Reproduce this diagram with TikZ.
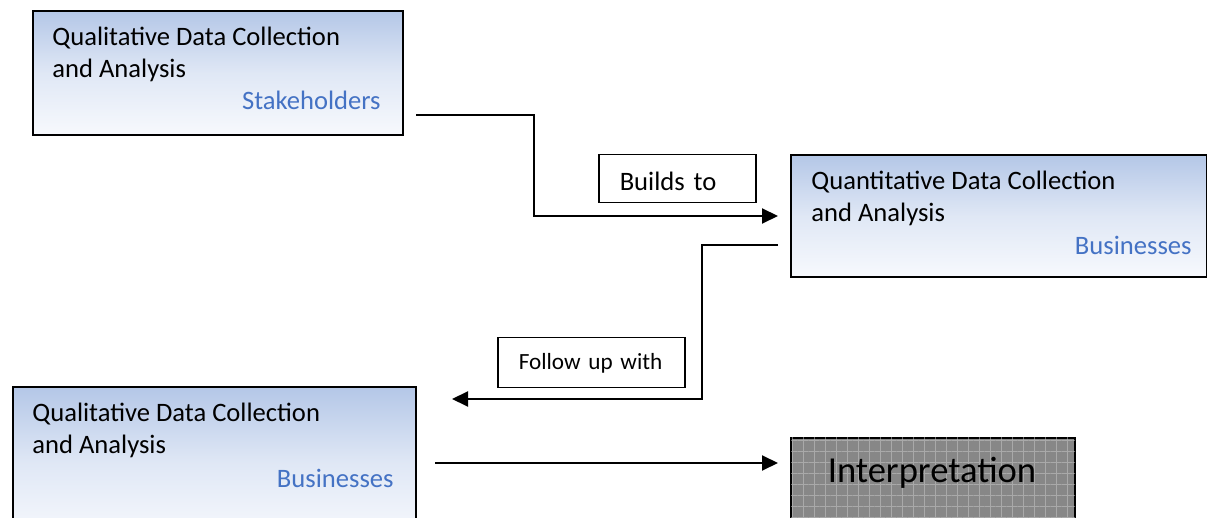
\documentclass[tikz,border=0pt]{standalone}
\usepackage{fontspec}
\setmainfont{Carlito}
\usetikzlibrary{arrows.meta,patterns.meta}

\definecolor{boxblue}{RGB}{180,199,231}
\definecolor{boxwhite}{RGB}{247,249,253}
\definecolor{grouptext}{RGB}{68,114,196}

\tikzset{
    stagebox/.style={draw=black, line width=1pt, anchor=north west,
        top color=boxblue, bottom color=boxwhite, middle color=boxblue!35!boxwhite},
    steptitle/.style={anchor=base west, align=left, inner sep=0pt,
        font=\fontsize{13.3}{16}\selectfont},
    group/.style={anchor=base east, inner sep=0pt, text=grouptext,
        font=\fontsize{13.3}{16}\selectfont},
    linkbox/.style={draw=black, line width=0.75pt, anchor=north west, align=left,
        inner xsep=10.5pt, inner ysep=0pt, text depth=0pt},
    flow/.style={line width=1pt, -{Triangle[length=8pt,width=7.5pt]}}
}

\begin{document}
\begin{tikzpicture}[x=0.5pt,y=-0.5pt]
    \useasboundingbox (0,0) rectangle (1207,518);
    \clip (0,0) rectangle (1207,518);

    % the three data collection steps
    \node[stagebox, minimum width=185pt, minimum height=62pt] (stake) at (32,10) {};
    \node[stagebox, minimum width=208pt, minimum height=61pt] (quant) at (790,154) {};
    \node[stagebox, minimum width=201.5pt, minimum height=76pt] (bus) at (12,386) {};

    % titles sit on the baseline of their last line
    \node[steptitle] (staketitle) at (52,78) {Qualitative Data Collection\\and Analysis};
    \node[group] (stakegroup) at (381,110) {Stakeholders};
    \node[steptitle] (quanttitle) at (811,222) {Quantitative Data Collection\\and Analysis};
    \node[group] (quantgroup) at (1192,255) {Businesses};
    \node[steptitle] (bustitle) at (32,454) {Qualitative Data Collection\\and Analysis};
    \node[group] (busgroup) at (394,488) {Businesses};

    % interpretation box, hatched grey
    \node[draw=black, line width=1pt, anchor=north west, fill=black!47,
          minimum width=142pt, minimum height=60pt] (interp) at (790,437) {};
    \fill[pattern={Hatch[distance=5.5pt, line width=0.5pt]}, pattern color=white!80!black,
          opacity=0.5] ([shift={(1,-1)}]interp.south west) rectangle ([shift={(-1,1)}]interp.north east);
    \node[anchor=base, inner sep=0pt, text=black, font=\fontsize{18.3}{22}\selectfont] (interptext)
          at (932,483) {Interpretation};

    % labels on the connectors
    \node[linkbox, minimum width=78.5pt, minimum height=24pt, text width=57.5pt,
          text height=12pt, font=\fontsize{13.3}{16}\selectfont] (builds) at (598,154) {Builds to};
    \node[linkbox, minimum width=93.5pt, minimum height=25pt, text width=72.5pt,
          text height=7pt, font=\fontsize{11.6}{14}\selectfont] (follow) at (497,337) {\mbox{Follow up with}};

    % connectors
    \draw[flow] ([xshift=6pt,yshift=10.5pt]stake.south east) -- ++(118,0)
        |- ([xshift=-6pt]quant.west);
    \draw[flow] ([xshift=-6pt,yshift=-14.5pt]quant.west) -- ++(-76,0)
        |- ([xshift=17.5pt,yshift=-6.5pt]bus.north east);
    \draw[flow] ([xshift=9pt]bus.east) -- ([xshift=-6pt]bus.east -| interp.west);
\end{tikzpicture}
\end{document}
